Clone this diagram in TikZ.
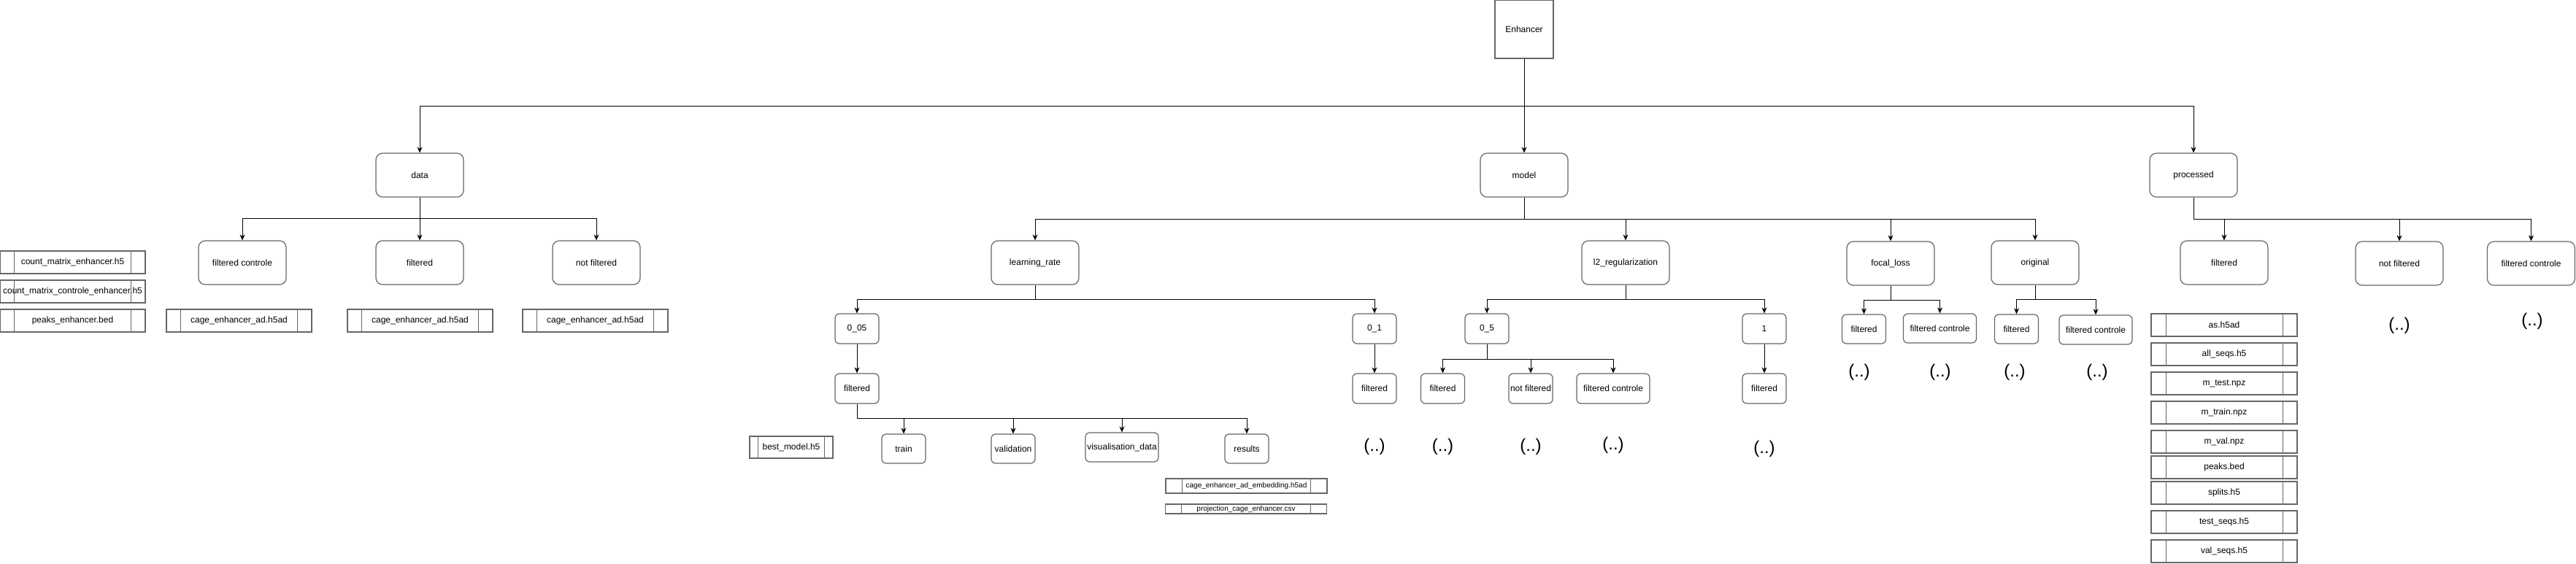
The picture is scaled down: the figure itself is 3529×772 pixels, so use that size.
\documentclass[tikz,border=0pt]{standalone}
\usepackage{fontspec}
\setmainfont{Liberation Sans}
\usetikzlibrary{arrows.meta,calc}

\definecolor{boxgray}{HTML}{666666}

\tikzset{
  folder/.style={draw=boxgray, line width=1.2pt, rounded corners=9pt,
    minimum width=120pt, minimum height=60pt, inner sep=0pt,
    font=\fontsize{12}{14}\selectfont},
  subfolder/.style={folder, rounded corners=6pt, minimum width=60pt, minimum height=41pt},
  widefolder/.style={subfolder, minimum width=100pt},
  filebox/.style={draw=boxgray, line width=1.2pt, minimum width=199pt, minimum height=31pt,
    inner sep=0pt, font=\fontsize{12}{14}\selectfont,
    path picture={
      \draw[boxgray, line width=1pt]
        ($(path picture bounding box.north west)!0.1!(path picture bounding box.north east)$) --
        ($(path picture bounding box.south west)!0.1!(path picture bounding box.south east)$)
        ($(path picture bounding box.north west)!0.9!(path picture bounding box.north east)$) --
        ($(path picture bounding box.south west)!0.9!(path picture bounding box.south east)$);
    }},
  smallfile/.style={filebox, minimum width=221pt, minimum height=20pt, font=\fontsize{10}{12}\selectfont},
  more/.style={inner sep=0pt, font=\fontsize{24}{28}\selectfont},
  link/.style={draw=black, line width=1pt, -{Stealth[length=8pt,width=7pt,inset=2.5pt]}}
}

\begin{document}
\begin{tikzpicture}[x=1pt,y=-1pt]
  \useasboundingbox (0,0) rectangle (3529,772);

  % root
  \node[draw=boxgray, line width=1.2pt, minimum width=80pt, minimum height=80pt, inner sep=0pt,
    font=\fontsize{12}{14}\selectfont] (enh) at (2088,40) {Enhancer};
  \node[folder] (data)  at (575,240)  {data};
  \node[folder] (model) at (2088,240) {model};
  \node[folder] (proc)  at (3005,240) {processed};

  \draw[link] (enh) -- (model);
  \draw[link] (enh.south) -- ++(0,65) -| (data.north);
  \draw[link] (enh.south) -- ++(0,65) -| (proc.north);

  % data
  \node[folder] (dfc)  at (332,360) {filtered controle};
  \node[folder] (dfil) at (575,360) {filtered};
  \node[folder] (dnf)  at (817,360) {not filtered};
  \draw[link] (data.south) -- ++(0,29) -| (dfc.north);
  \draw[link] (data) -- (dfil);
  \draw[link] (data.south) -- ++(0,29) -| (dnf.north);

  \node[filebox] (cme)  at (99.5,359.5) {count\_matrix\_enhancer.h5};
  \node[filebox] (cmce) at (99.5,399.5) {count\_matrix\_controle\_enhancer.h5};
  \node[filebox] (pke)  at (99.5,439.5) {peaks\_enhancer.bed};
  \node[filebox] (cfc)  at (327.5,439.5) {cage\_enhancer\_ad.h5ad};
  \node[filebox] (cfil) at (575.5,439.5) {cage\_enhancer\_ad.h5ad};
  \node[filebox] (cnf)  at (815.5,439.5) {cage\_enhancer\_ad.h5ad};

  % model
  \node[folder] (lr)    at (1418,360) {learning\_rate};
  \node[folder] (l2)    at (2227,360) {l2\_regularization};
  \node[folder] (focal) at (2590,361) {focal\_loss};
  \node[folder] (orig)  at (2788,360) {original};
  \draw[link] (model.south) -- ++(0,30) -| (lr.north);
  \draw[link] (model.south) -- ++(0,30) -| (l2.north);
  \draw[link] (model.south) -- ++(0,30) -| (focal.north);
  \draw[link] (model.south) -- ++(0,30) -| (orig.north);

  % learning_rate
  \node[subfolder] (lra)    at (1174,450.5) {0\_05};
  \node[subfolder] (lrb)    at (1883,450.5) {0\_1};
  \node[subfolder] (lrafil) at (1174,532.5) {filtered};
  \node[subfolder] (lrbfil) at (1883,532.5) {filtered};
  \draw[link] (lr.south) -- ++(0,20) -| (lra.north);
  \draw[link] (lr.south) -- ++(0,20) -| (lrb.north);
  \draw[link] (lra) -- (lrafil);
  \draw[link] (lrb) -- (lrbfil);

  \node[subfolder, minimum height=40pt] (train) at (1238,615) {train};
  \node[subfolder, minimum height=40pt] (valid) at (1388,615) {validation};
  \node[widefolder, minimum height=40pt] (vis)  at (1537,613) {visualisation\_data};
  \node[subfolder, minimum height=40pt] (res)   at (1708,615) {results};
  \draw[link] (lrafil.south) -- ++(0,20) -| (train.north);
  \draw[link] (lrafil.south) -- ++(0,20) -| (valid.north);
  \draw[link] (lrafil.south) -- ++(0,20) -| (vis.north);
  \draw[link] (lrafil.south) -- ++(0,20) -| (res.north);

  \node[filebox, minimum width=114pt, minimum height=30pt] (best) at (1084,613) {best\_model.h5};
  \node[smallfile] (emb)  at (1707.5,666) {cage\_enhancer\_ad\_embedding.h5ad};
  \node[smallfile, minimum height=13pt] (proj) at (1707,697.5) {projection\_cage\_enhancer.csv};
  \node[more] (lrbmore) at (1883,612) {(..)};

  % l2_regularization
  \node[subfolder] (l2a) at (2037,450.5) {0\_5};
  \node[subfolder] (l2b) at (2417,450.5) {1};
  \draw[link] (l2.south) -- ++(0,20) -| (l2a.north);
  \draw[link] (l2.south) -- ++(0,20) -| (l2b.north);

  \node[subfolder]  (l2afil) at (1976.5,532.5) {filtered};
  \node[subfolder]  (l2anf)  at (2097,532.5) {not filtered};
  \node[widefolder] (l2afc)  at (2210,532.5) {filtered controle};
  \node[subfolder]  (l2bfil) at (2417,532.5) {filtered};
  \draw[link] (l2a.south) -- ++(0,21) -| (l2afil.north);
  \draw[link] (l2a.south) -- ++(0,21) -| (l2anf.north);
  \draw[link] (l2a.south) -- ++(0,21) -| (l2afc.north);
  \draw[link] (l2b) -- (l2bfil);

  \node[more] (l2afilmore) at (1976.5,612) {(..)};
  \node[more] (l2anfmore)  at (2097,612) {(..)};
  \node[more] (l2afcmore)  at (2210,610) {(..)};
  \node[more] (l2bmore)    at (2417,615) {(..)};

  % focal_loss and original
  \node[subfolder, minimum height=40pt]  (ffil) at (2553.5,451) {filtered};
  \node[widefolder, minimum height=40pt] (ffc)  at (2657.5,450) {filtered controle};
  \node[subfolder, minimum height=40pt]  (ofil) at (2762.5,451) {filtered};
  \node[widefolder, minimum height=40pt] (ofc)  at (2871,452) {filtered controle};
  \draw[link] (focal.south) -- ++(0,20) -| (ffil.north);
  \draw[link] (focal.south) -- ++(0,20) -| (ffc.north);
  \draw[link] (orig.south) -- ++(0,20) -| (ofil.north);
  \draw[link] (orig.south) -- ++(0,20) -| (ofc.north);

  \node[more] (ffilmore) at (2547,510) {(..)};
  \node[more] (ffcmore)  at (2658,510) {(..)};
  \node[more] (ofilmore) at (2760,510) {(..)};
  \node[more] (ofcmore)  at (2873,510) {(..)};

  % processed
  \node[folder] (pfil) at (3047,360) {filtered};
  \node[folder] (pnf)  at (3287,361) {not filtered};
  \node[folder] (pfc)  at (3467.5,361) {filtered controle};
  \draw[link] (proc.south) -- ++(0,30) -| (pfil.north);
  \draw[link] (proc.south) -- ++(0,30) -| (pnf.north);
  \draw[link] (proc.south) -- ++(0,30) -| (pfc.north);

  \node[more] (pnfmore) at (3287,446) {(..)};
  \node[more] (pfcmore) at (3469,440) {(..)};

  \node[filebox, minimum width=200pt] (as)     at (3047,445.5) {as.h5ad};
  \node[filebox, minimum width=200pt] (allseq) at (3047,485.5) {all\_seqs.h5};
  \node[filebox, minimum width=200pt] (mtest)  at (3047,525.5) {m\_test.npz};
  \node[filebox, minimum width=200pt] (mtrain) at (3047,565.5) {m\_train.npz};
  \node[filebox, minimum width=200pt] (mval)   at (3047,605.5) {m\_val.npz};
  \node[filebox, minimum width=200pt] (peaks)  at (3047,640.5) {peaks.bed};
  \node[filebox, minimum width=200pt] (splits) at (3047,675.5) {splits.h5};
  \node[filebox, minimum width=200pt] (tseq)   at (3047,715.5) {test\_seqs.h5};
  \node[filebox, minimum width=200pt] (vseq)   at (3047,755.5) {val\_seqs.h5};
\end{tikzpicture}
\end{document}
